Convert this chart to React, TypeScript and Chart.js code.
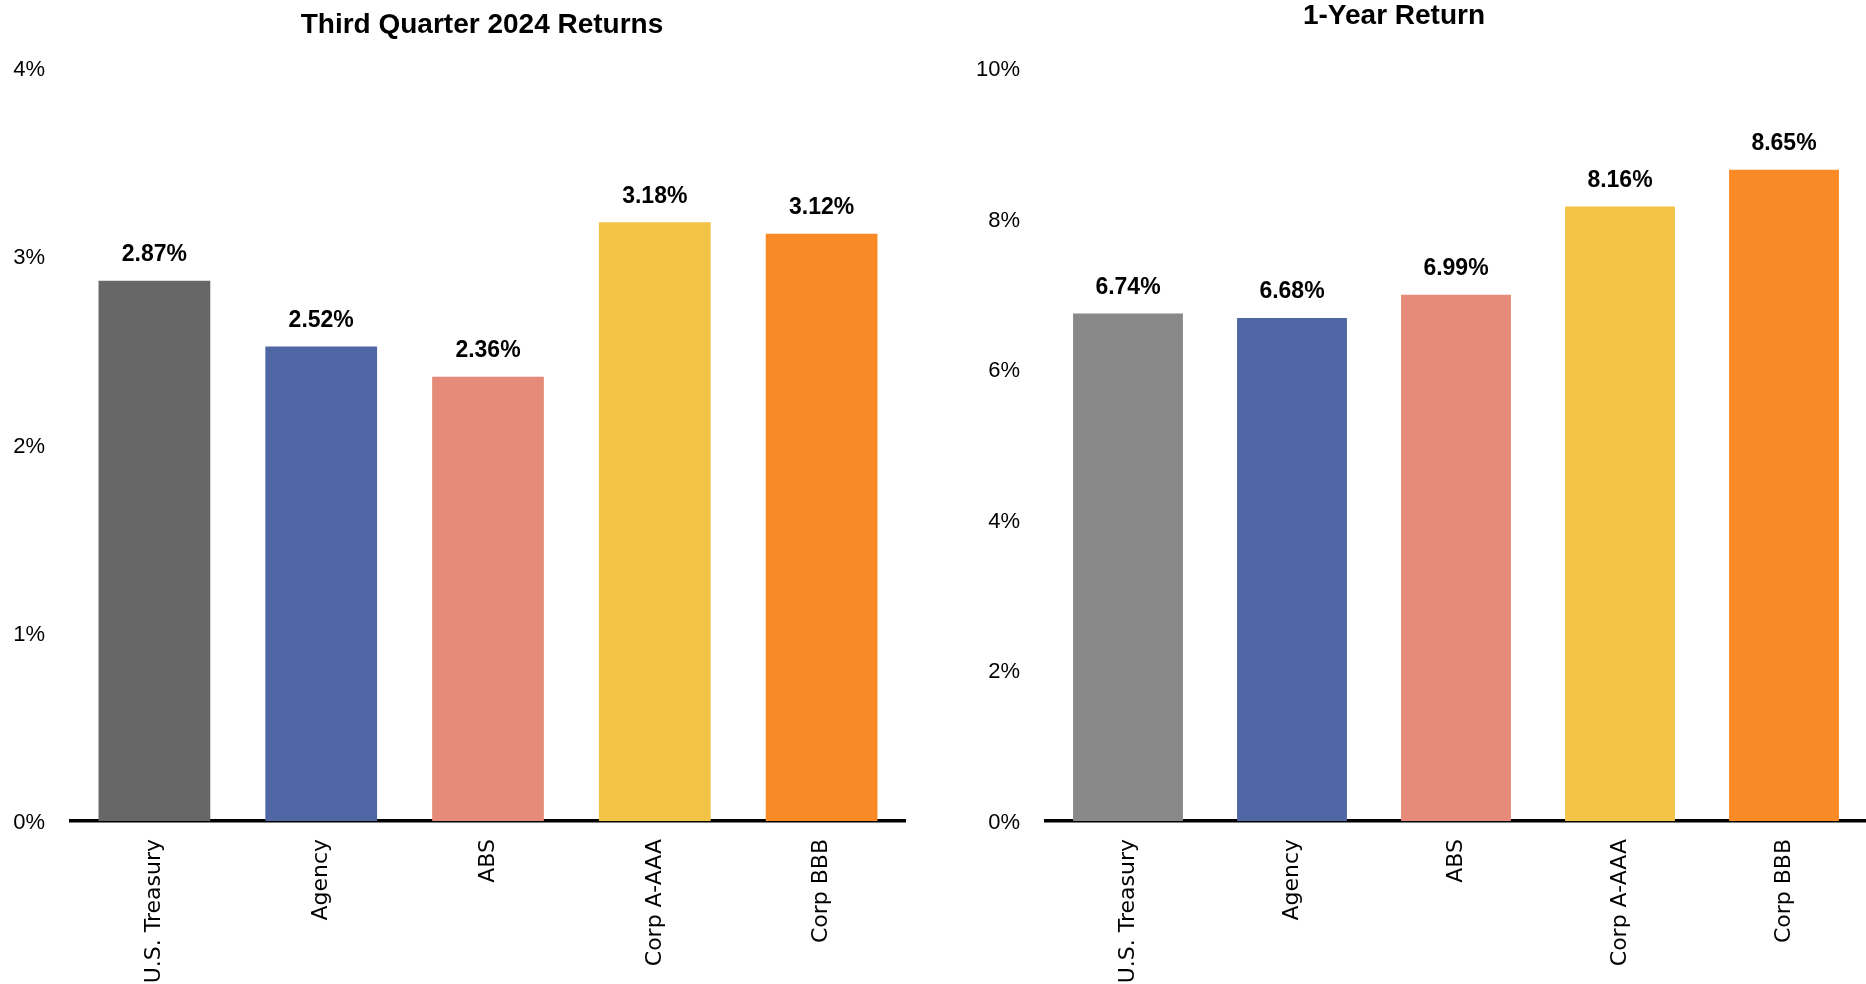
import React, { useEffect, useRef } from "react";
import { Chart, registerables } from "chart.js";

Chart.register(...registerables);

const categories = ["U.S. Treasury", "Agency", "ABS", "Corp A-AAA", "Corp BBB"];
const quarterValues = [2.87, 2.52, 2.36, 3.18, 3.12];
const yearValues = [6.74, 6.68, 6.99, 8.16, 8.65];
const quarterColors = ["#676767", "#4F67A5", "#E68B79", "#F2C345", "#F98A26"];
const yearColors = ["#898989", "#4F67A5", "#E68B79", "#F2C345", "#F98A26"];
const quarterTitle = "Third Quarter 2024 Returns";
const yearTitle = "1-Year Return";

const SANS = "'Liberation Sans', Arial, sans-serif";
const VERD = "'DejaVu Sans', Verdana, sans-serif";

const valueLabelPlugin = {
  id: "valueLabels",
  afterDatasetsDraw(chart: any) {
    const ctx = chart.ctx;
    const meta = chart.getDatasetMeta(0);
    const data = chart.data.datasets[0].data as number[];
    ctx.save();
    ctx.font = `bold 23px ${SANS}`;
    ctx.fillStyle = "#000";
    ctx.textAlign = "center";
    ctx.textBaseline = "middle";
    meta.data.forEach((bar: any, i: number) => {
      ctx.fillText(data[i].toFixed(2) + "%", bar.x, bar.y - 26);
    });
    ctx.restore();
  },
};

type PanelProps = {
  title: string;
  values: number[];
  colors: string[];
  max: number;
  step: number;
  left: number;
  width: number;
  yWidth: number;
  rightGap: number;
  titleTop: number;
};

function Panel(p: PanelProps) {
  const ref = useRef<HTMLCanvasElement | null>(null);
  useEffect(() => {
    if (!ref.current) return;
    const scales: any = {
      x: {
        grid: { display: false, drawTicks: false },
        border: { display: true, color: "#000", width: 3.5 },
        ticks: {
          color: "#000",
          font: { family: VERD, size: 22 },
          minRotation: 90,
          maxRotation: 90,
          padding: 18,
          autoSkip: false,
        },
        afterFit(scale: any) {
          scale.height = 163;
        },
      },
      y: {
        min: 0,
        max: p.max,
        grid: { display: false, drawTicks: false },
        border: { display: false },
        ticks: {
          stepSize: p.step,
          color: "#000",
          font: { family: SANS, size: 22 },
          padding: 26,
          labelOffset: 2,
          callback: (v: any) => v + "%",
        },
        afterFit(scale: any) {
          scale.width = p.yWidth;
        },
      },
    };
    if (p.rightGap > 0) {
      scales.gap = {
        type: "linear",
        position: "right",
        display: true,
        grid: { display: false, drawTicks: false },
        border: { display: false },
        ticks: { display: false },
        afterFit(scale: any) {
          scale.width = p.rightGap;
        },
      };
    }
    const chart = new Chart(ref.current, {
      type: "bar",
      data: {
        labels: categories,
        datasets: [
          {
            data: p.values,
            backgroundColor: p.colors,
            borderWidth: 0,
            barPercentage: 0.67,
            categoryPercentage: 1,
            yAxisID: "y",
          },
        ],
      },
      options: {
        responsive: false,
        animation: false,
        devicePixelRatio: 1,
        layout: { padding: 0 },
        plugins: {
          legend: { display: false },
          tooltip: { enabled: false },
          title: {
            display: true,
            text: p.title,
            color: "#000",
            font: { family: SANS, size: 28, weight: "bold", lineHeight: 1 },
            padding: { top: p.titleTop, bottom: 68 - p.titleTop - 28 },
          },
        },
        scales,
      },
      plugins: [valueLabelPlugin],
    });
    return () => chart.destroy();
  }, []);
  return (
    <canvas
      ref={ref}
      width={p.width}
      height={984}
      style={{ position: "absolute", left: p.left, top: 0, width: p.width, height: 984 }}
    />
  );
}

export default function App() {
  return (
    <div
      style={{
        position: "absolute",
        left: 0,
        top: 0,
        width: 1866,
        height: 984,
        background: "#fff",
        overflow: "hidden",
      }}
    >
      <Panel
        title={quarterTitle}
        values={quarterValues}
        colors={quarterColors}
        max={4}
        step={1}
        left={0}
        width={964}
        yWidth={71}
        rightGap={59}
        titleTop={11}
      />
      <Panel
        title={yearTitle}
        values={yearValues}
        colors={yearColors}
        max={10}
        step={2}
        left={922}
        width={944}
        yWidth={124}
        rightGap={0}
        titleTop={2}
      />
    </div>
  );
}
